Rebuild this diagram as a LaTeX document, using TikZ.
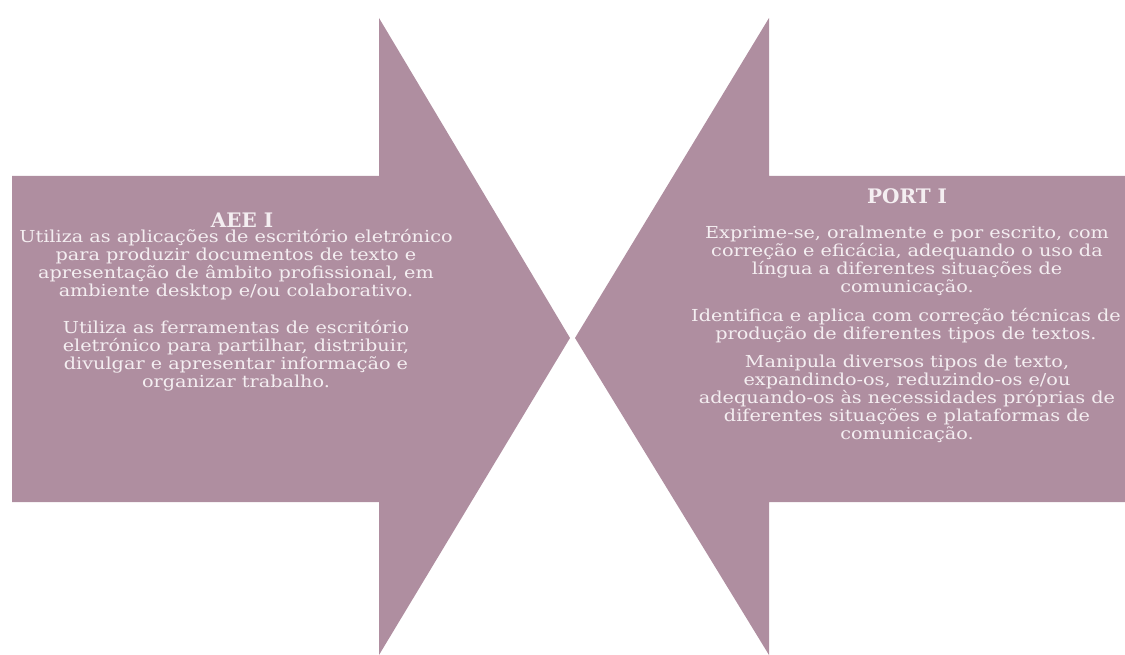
\documentclass[tikz,border=0pt]{standalone}
\usepackage{fontspec}
\setmainfont{DejaVu Serif}
\newfontfamily\bodyfont[FakeStretch=1.165]{DejaVu Serif}
\definecolor{mauve}{HTML}{AF8EA0}
\definecolor{txt}{HTML}{F4EEF1}
\begin{document}
\begin{tikzpicture}[x=1pt,y=-1pt,
  arrowshape/.style={fill=mauve,draw=none},
  para/.style={text=txt,align=center,inner sep=0pt,font=\bodyfont\fontsize{16.5}{18}\selectfont},
  ttl/.style={text=txt,align=center,inner sep=0pt,font=\fontsize{20}{22}\selectfont\bfseries}]
\useasboundingbox (0,0) rectangle (1125,655);
% left arrow
\path[arrowshape] (12,176) -- (379,176) -- (379,18) -- (570,338) -- (379,655) -- (379,502) -- (12,502) -- cycle;
% right arrow
\path[arrowshape] (1125,176) -- (769,176) -- (769,18) -- (575,338) -- (769,655) -- (769,502) -- (1125,502) -- cycle;
% left texts
\node[ttl] (lt) at (242,220) {AEE I};
\node[para] (lp1) at (236,264.5) {Utiliza as aplicações de escritório eletrónico\\para produzir documentos de texto e\\apresentação de âmbito profissional, em\\ambiente desktop e/ou colaborativo.};
\node[para] (lp2) at (236,355.5) {Utiliza as ferramentas de escritório\\eletrónico para partilhar, distribuir,\\divulgar e apresentar informação e\\organizar trabalho.};
% right texts
\node[ttl] (rt) at (907,196) {PORT I};
\node[para] (rp1) at (907,261) {Exprime-se, oralmente e por escrito, com\\correção e eficácia, adequando o uso da\\língua a diferentes situações de\\comunicação.};
\node[para] (rp2) at (906,326) {Identifica e aplica com correção técnicas de\\produção de diferentes tipos de textos.};
\node[para] (rp3) at (907,399) {Manipula diversos tipos de texto,\\expandindo-os, reduzindo-os e/ou\\adequando-os às necessidades próprias de\\diferentes situações e plataformas de\\comunicação.};
\end{tikzpicture}
\end{document}
